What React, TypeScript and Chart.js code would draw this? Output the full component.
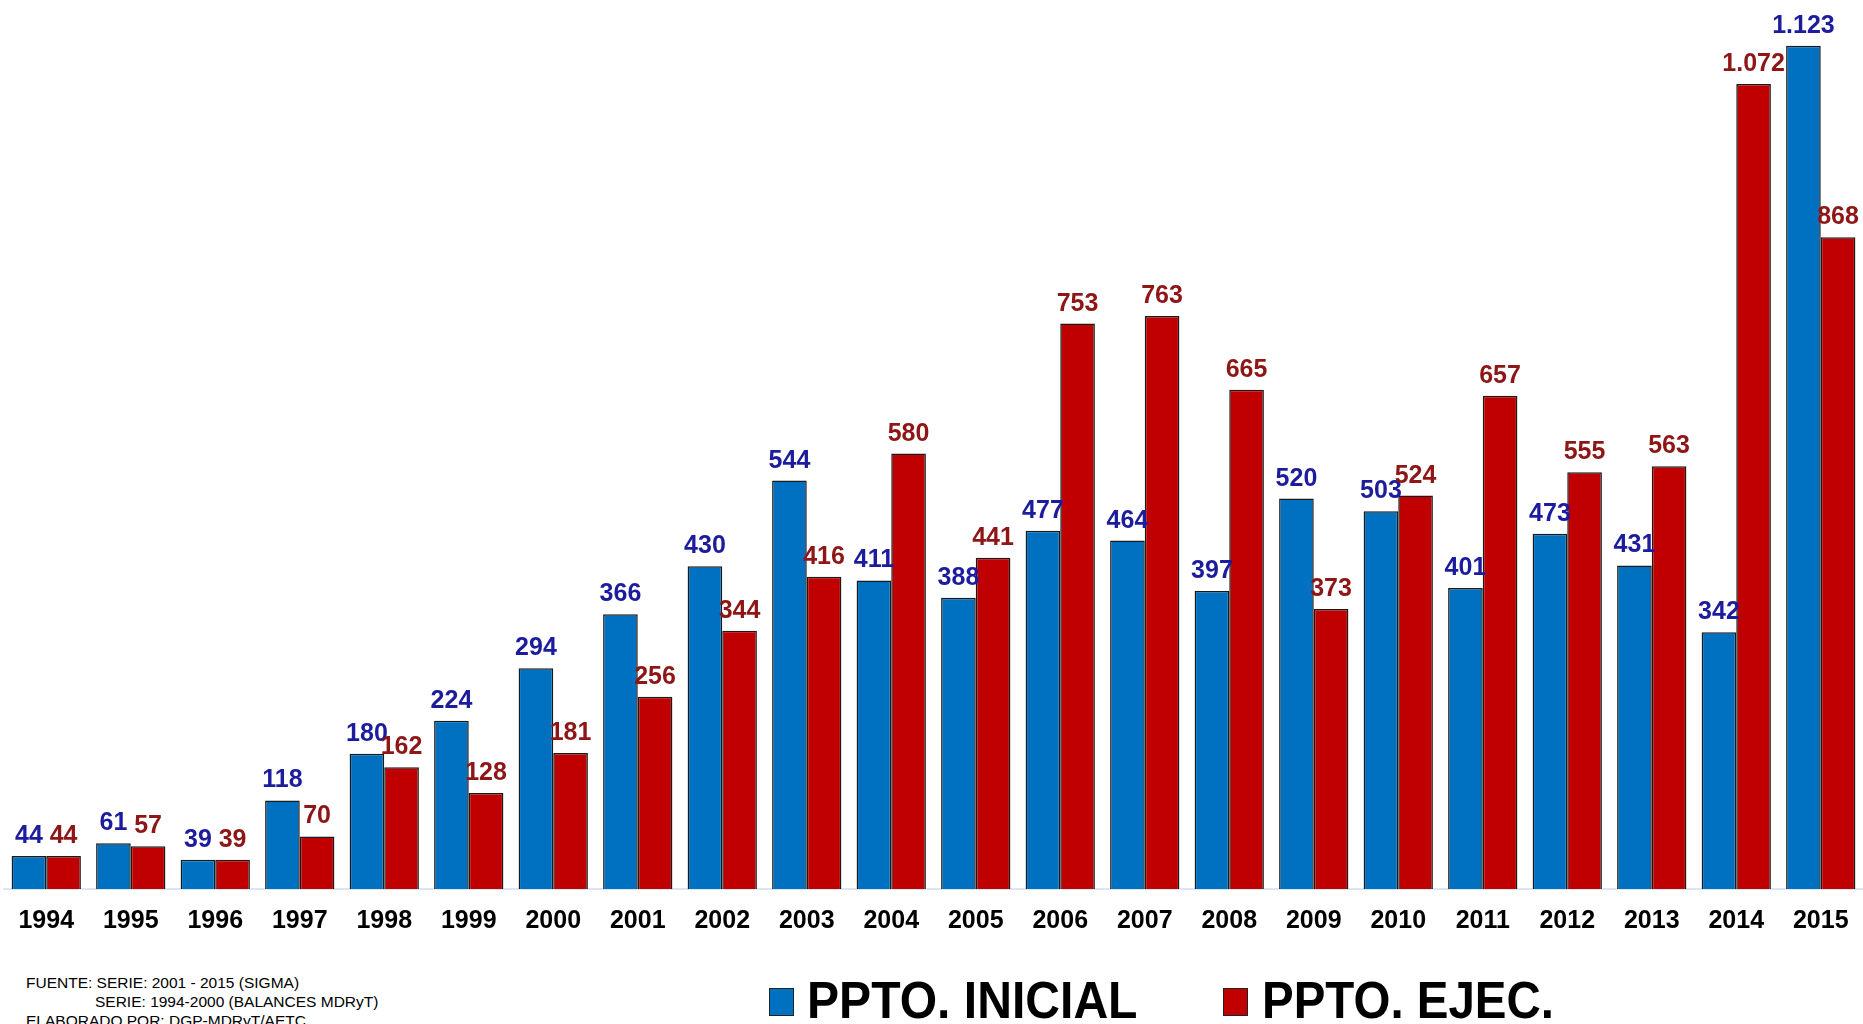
import React, { useEffect, useRef } from "react";
import { Chart, registerables } from "chart.js";

Chart.register(...registerables);

const years = ["1994","1995","1996","1997","1998","1999","2000","2001","2002","2003","2004","2005","2006","2007","2008","2009","2010","2011","2012","2013","2014","2015"];
const pptoInicial = [44, 61, 39, 118, 180, 224, 294, 366, 430, 544, 411, 388, 477, 464, 397, 520, 503, 401, 473, 431, 342, 1123];
const pptoEjec = [44, 57, 39, 70, 162, 128, 181, 256, 344, 416, 580, 441, 753, 763, 665, 373, 524, 657, 555, 563, 1072, 868];
const seriesNames = ["PPTO. INICIAL", "PPTO. EJEC."];
const footLines = ["FUENTE: SERIE: 2001 - 2015 (SIGMA)", "SERIE: 1994-2000 (BALANCES MDRyT)", "ELABORADO POR: DGP-MDRyT/AETC"];

const BLUE = "#0070C0";
const RED = "#C00000";
const BLUE_LABEL = "#1C1C9C";
const RED_LABEL = "#8E1616";
const FONT = "'Liberation Sans', Arial, Helvetica, sans-serif";

function fmt(n: number): string {
  return String(n).replace(/\B(?=(\d{3})+(?!\d))/g, ".");
}

const labelPlugin = {
  id: "valueLabels",
  afterDatasetsDraw(chart: any) {
    const ctx = chart.ctx;
    ctx.save();
    ctx.font = `bold 25px ${FONT}`;
    ctx.textAlign = "center";
    ctx.textBaseline = "alphabetic";
    chart.data.datasets.forEach((ds: any, di: number) => {
      const meta = chart.getDatasetMeta(di);
      ctx.fillStyle = di === 0 ? BLUE_LABEL : RED_LABEL;
      meta.data.forEach((bar: any, i: number) => {
        ctx.fillText(fmt(ds.data[i]), bar.x, bar.y - 13);
      });
    });
    ctx.restore();
  },
};

export default function App() {
  const ref = useRef<HTMLCanvasElement | null>(null);
  useEffect(() => {
    if (!ref.current) return;
    const barStyle = { borderColor: "#1a1a1a", borderWidth: 1.5, categoryPercentage: 0.82, barPercentage: 1.0 };
    const chart = new Chart(ref.current, {
      type: "bar",
      data: {
        labels: years,
        datasets: [
          { label: seriesNames[0], data: pptoInicial, backgroundColor: BLUE, ...barStyle },
          { label: seriesNames[1], data: pptoEjec, backgroundColor: RED, ...barStyle },
        ],
      },
      options: {
        animation: false,
        responsive: false,
        maintainAspectRatio: false,
        layout: { padding: { left: 4, right: 0, top: 18, bottom: 0 } },
        plugins: { legend: { display: false }, tooltip: { enabled: false } },
        scales: {
          x: {
            grid: { display: false, drawTicks: false },
            border: { display: true, color: "#DCE6F2", width: 2 },
            ticks: { color: "#000", font: { family: FONT, size: 25, weight: "bold", lineHeight: 2.56 }, padding: 0, maxRotation: 0, autoSkip: false },
            afterFit: (s: any) => { s.height = 50; },
          } as any,
          y: { display: false, min: 0, max: 1160 },
        },
      },
      plugins: [labelPlugin],
    });
    return () => chart.destroy();
  }, []);

  return (
    <div style={{ position: "absolute", left: 0, top: 0, width: 1863, height: 1024, overflow: "hidden", background: "#fff", fontFamily: FONT }}>
      <canvas ref={ref} width={1863} height={939} style={{ position: "absolute", left: 0, top: 0, width: 1863, height: 939 }} />
      <div style={{ position: "absolute", left: 26, top: 973, fontSize: 15.5, lineHeight: "19px", color: "#000", whiteSpace: "pre" }}>
        <div>{footLines[0]}</div>
        <div style={{ paddingLeft: 69 }}>{footLines[1]}</div>
        <div>{footLines[2]}</div>
      </div>
      <div style={{ position: "absolute", left: 769, top: 988, width: 25, height: 28, background: BLUE, border: "1.5px solid #222", boxSizing: "border-box" }} />
      <div style={{ position: "absolute", left: 807, top: 974, fontSize: 52, lineHeight: "52px", fontWeight: "bold", color: "#000", whiteSpace: "pre", transform: "scaleX(0.925)", transformOrigin: "left top" }}>{seriesNames[0]}</div>
      <div style={{ position: "absolute", left: 1223, top: 988, width: 25, height: 28, background: RED, border: "1.5px solid #222", boxSizing: "border-box" }} />
      <div style={{ position: "absolute", left: 1262, top: 974, fontSize: 52, lineHeight: "52px", fontWeight: "bold", color: "#000", whiteSpace: "pre", transform: "scaleX(0.913)", transformOrigin: "left top" }}>{seriesNames[1]}</div>
    </div>
  );
}
